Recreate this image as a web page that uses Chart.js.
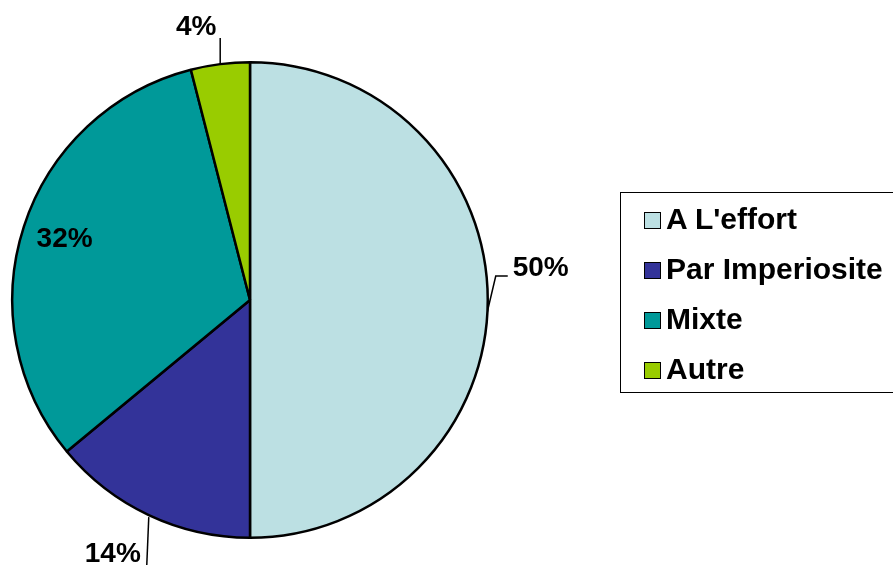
<!DOCTYPE html>
<html>
<head>
<meta charset="utf-8">
<script src="https://cdn.jsdelivr.net/npm/chart.js@4"></script>
<style>
  html, body { margin: 0; padding: 0; background: #fff; }
  #wrap { position: relative; width: 893px; height: 565px; }
  #legend {
    position: absolute; left: 620px; top: 192px; width: 290px; height: 201px;
    border: 1px solid #000; box-sizing: border-box;
    font: bold 30px "Liberation Sans", Arial, sans-serif; color: #000;
  }
  .item { position: absolute; left: 23px; height: 30px; line-height: 30px; white-space: nowrap; }
  .box { display: inline-block; width: 15px; height: 15px; border: 1px solid #000; margin-right: 5px; vertical-align: 0px; }
</style>
</head>
<body>
<div id="wrap">
  <canvas id="pie" width="893" height="565"></canvas>
  <div id="legend"></div>
</div>
<script>
const labels = ["A L'effort", 'Par Imperiosite', 'Mixte', 'Autre'];
const values = [50, 14, 32, 4];
const colors = ['#BCE0E3', '#333399', '#009999', '#99CC00'];

// label placement per slice: leader path relative to arc edge, text position
const labelStyle = [
  { leader: [[0, 0], [0, 10], [8, -24], [20, -24]], text: [53, -32] },
  { leader: [[0, 2], [-2, 50]], text: [-36, 39] },
  { inside: 0.82 },
  { leader: [[0, 0], [0, -26]], text: [-24, -37] }
];

const pctLabels = {
  id: 'pctLabels',
  afterDatasetsDraw(chart) {
    const ctx = chart.ctx;
    const meta = chart.getDatasetMeta(0);
    const total = values.reduce((a, b) => a + b, 0);
    ctx.save();
    ctx.font = 'bold 28px "Liberation Sans", Arial, sans-serif';
    ctx.fillStyle = '#000';
    ctx.strokeStyle = '#000';
    ctx.lineWidth = 1.5;
    ctx.textAlign = 'center';
    ctx.textBaseline = 'middle';
    meta.data.forEach((arc, i) => {
      const p = arc.getProps(['x', 'y', 'startAngle', 'endAngle', 'outerRadius']);
      const mid = (p.startAngle + p.endAngle) / 2;
      const txt = Math.round(values[i] / total * 100) + '%';
      const s = labelStyle[i];
      if (s.inside) {
        const r = p.outerRadius * s.inside;
        ctx.fillText(txt, p.x + Math.cos(mid) * r, p.y + Math.sin(mid) * r);
        return;
      }
      const ax = p.x + Math.cos(mid) * p.outerRadius;
      const ay = p.y + Math.sin(mid) * p.outerRadius;
      ctx.beginPath();
      s.leader.forEach((pt, k) => {
        if (k === 0) ctx.moveTo(ax + pt[0], ay + pt[1]);
        else ctx.lineTo(ax + pt[0], ay + pt[1]);
      });
      ctx.stroke();
      ctx.fillText(txt, ax + s.text[0], ay + s.text[1]);
    });
    ctx.restore();
  }
};

new Chart(document.getElementById('pie').getContext('2d'), {
  type: 'pie',
  data: {
    labels: labels,
    datasets: [{
      data: values,
      backgroundColor: colors,
      borderColor: '#000',
      borderWidth: 2.5
    }]
  },
  options: {
    responsive: false,
    animation: false,
    layout: { padding: { left: 11, top: 61, right: 404, bottom: 26 } },
    plugins: {
      legend: { display: false },
      tooltip: { enabled: false }
    }
  },
  plugins: [pctLabels]
});

const legend = document.getElementById('legend');
labels.forEach((l, i) => {
  const d = document.createElement('div');
  d.className = 'item';
  d.style.top = (11 + i * 50) + 'px';
  d.innerHTML = '<span class="box" style="background:' + colors[i] + '"></span>' + l;
  legend.appendChild(d);
});
</script>
</body>
</html>
